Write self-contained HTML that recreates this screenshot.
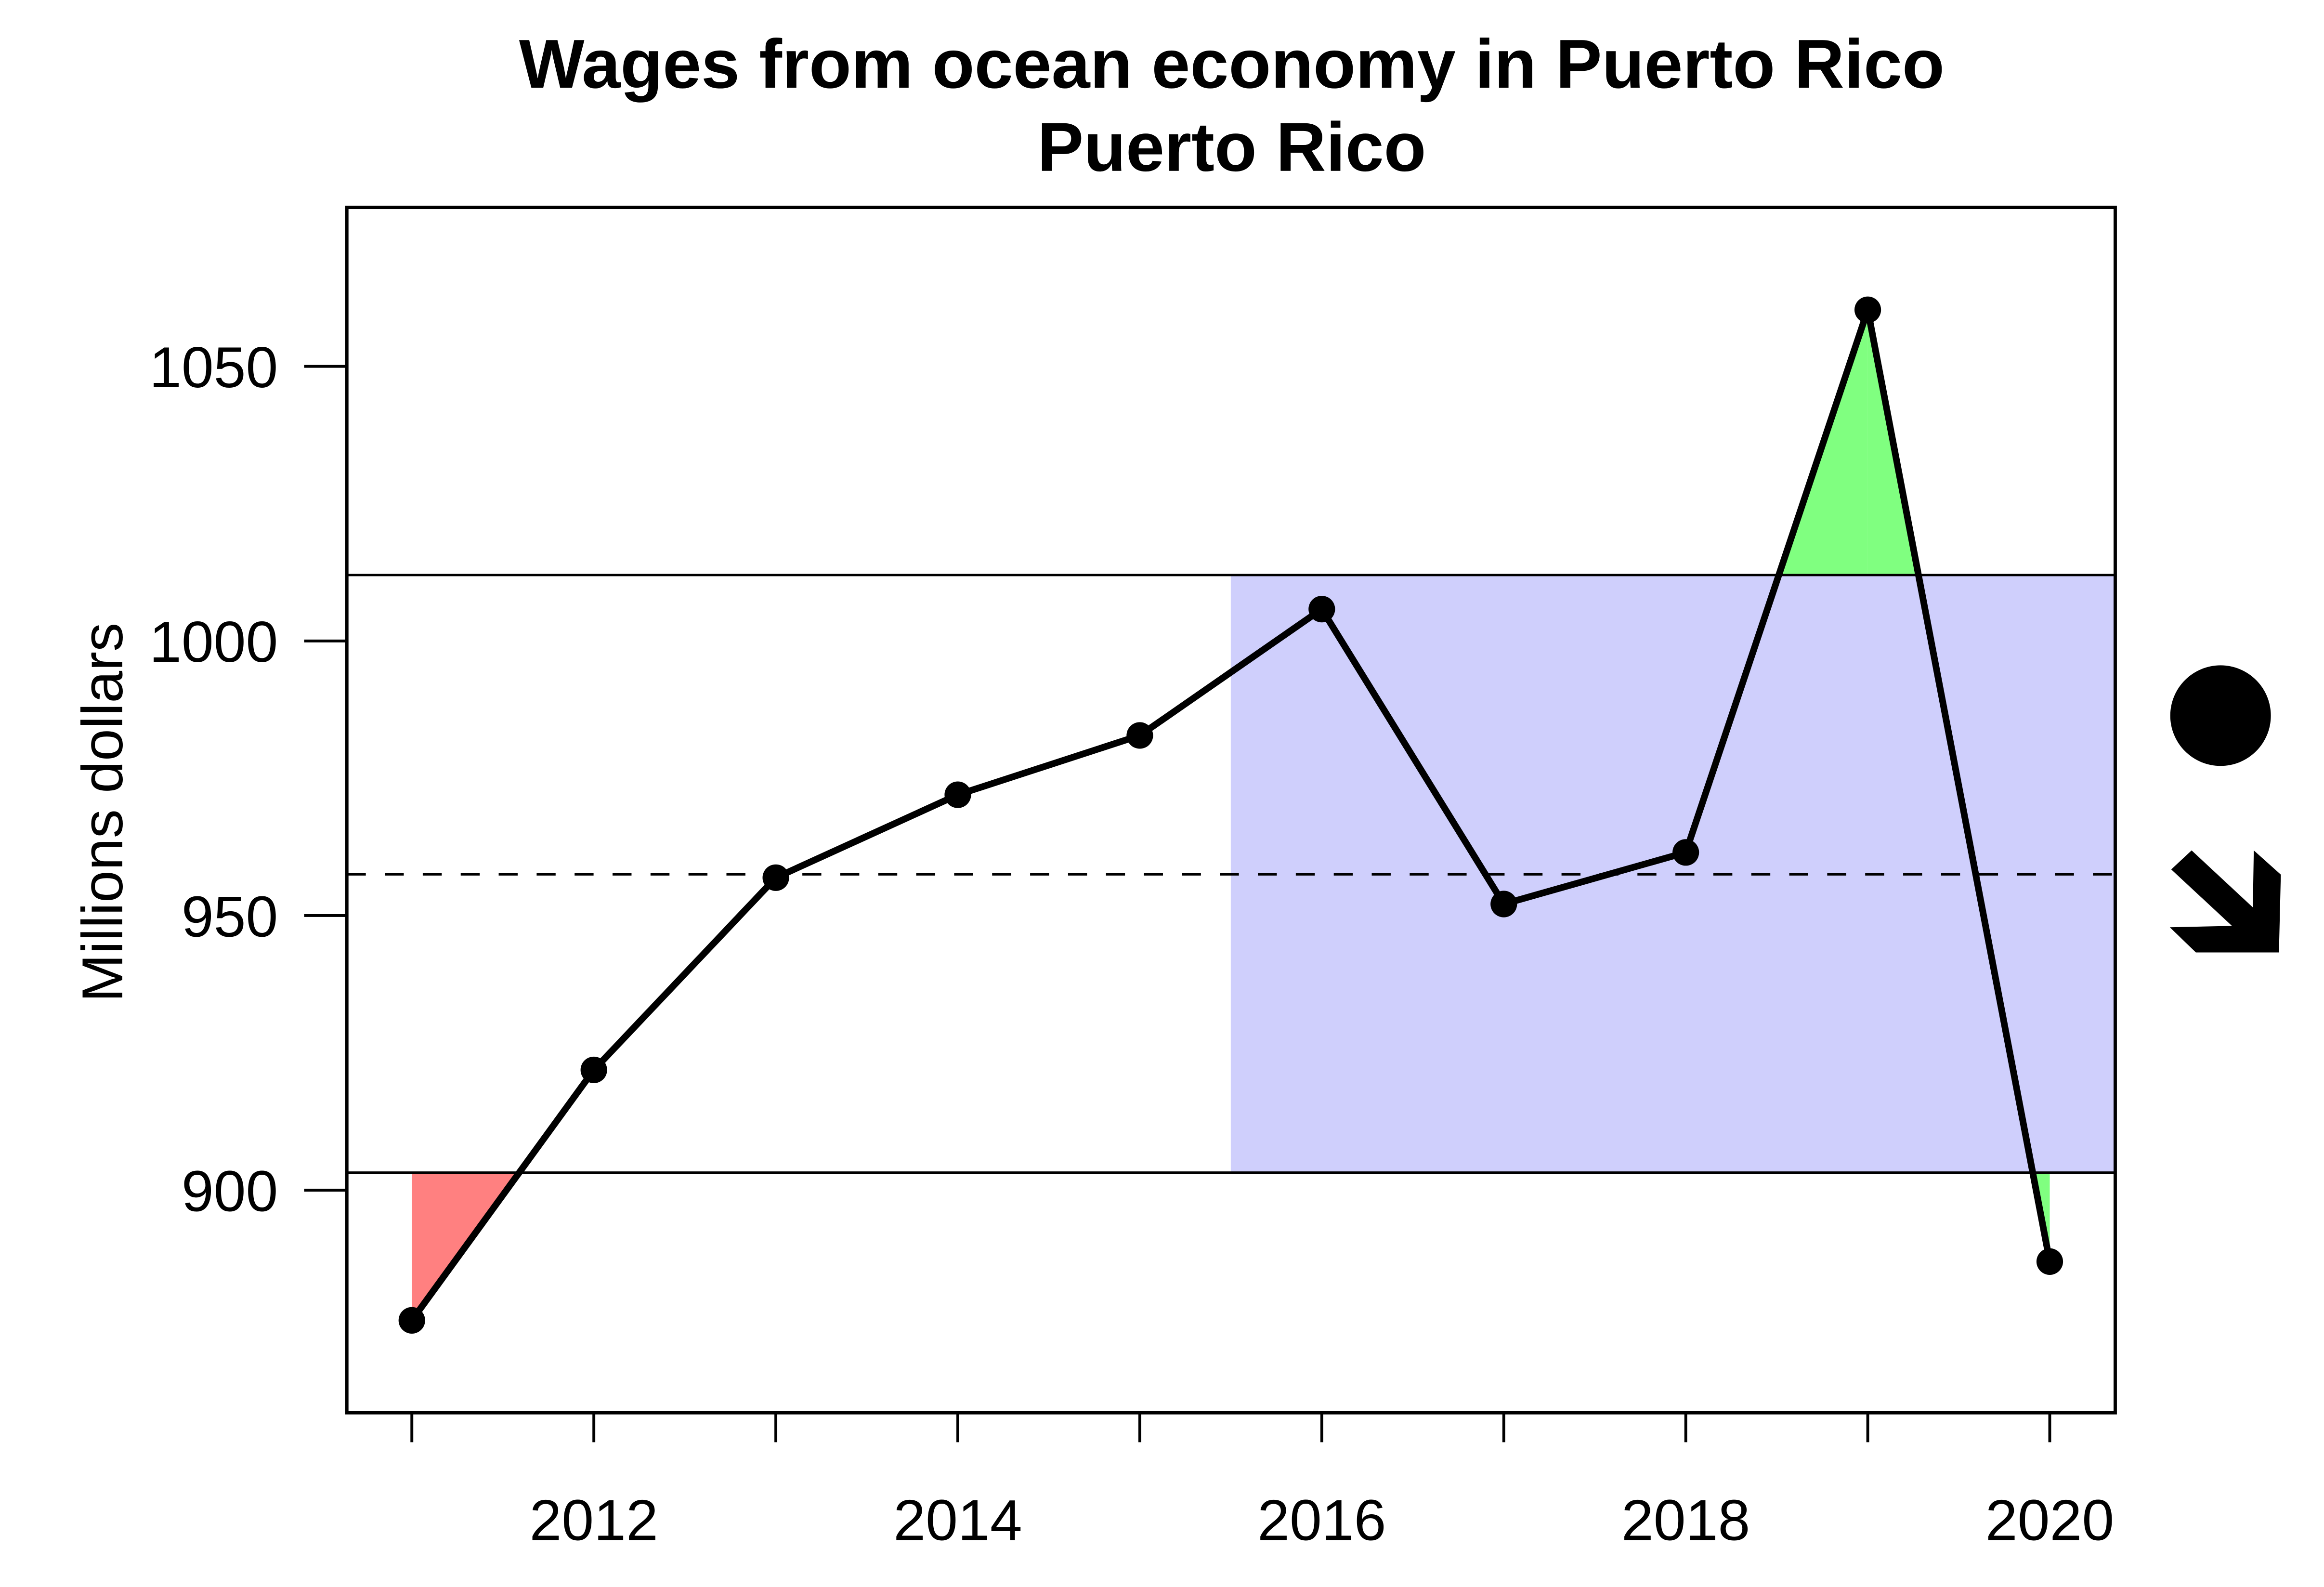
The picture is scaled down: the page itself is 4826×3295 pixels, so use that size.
<!DOCTYPE html>
<html><head><meta charset="utf-8">
<style>
html,body{margin:0;padding:0;background:#fff;}
svg{display:block;font-family:"Liberation Sans",Arial,sans-serif;}
</style></head>
<body>
<svg id="chart" width="4826" height="3295" viewBox="0 0 4826 3295" xmlns="http://www.w3.org/2000/svg">
<g transform="scale(0.9853)">
<text x="2596" y="185" font-size="146" font-weight="bold" text-anchor="middle">Wages from ocean economy in Puerto Rico</text>
<text x="2596" y="360" font-size="146" font-weight="bold" text-anchor="middle">Puerto Rico</text>
<text transform="translate(258,1712) rotate(-90)" font-size="122" text-anchor="middle">Millions dollars</text>
<g id="plot"></g>
<circle cx="4680" cy="1508" r="106" fill="#000"/>
<polygon fill="#000" points="4576,1832 4619,1792 4748,1912 4750,1792 4807,1843 4803,2007 4628,2007 4573,1954 4704,1951"/>
</g>
</svg>
<script>
const years = [2011,2012,2013,2014,2015,2016,2017,2018,2019,2020];
const values = [876.3,921.9,956.9,972.0,982.8,1005.8,952.1,961.5,1060.3,887.0];
const upperBand = [1012.0];
const lowerBand = [903.2];
const meanLine = [957.5];
const shadeStart = [2015.5];
const yTicks = [900,950,1000,1050];
const xTicks = [2011,2012,2013,2014,2015,2016,2017,2018,2019,2020];
const xTickLabels = ["","2012","","2014","","2016","","2018","","2020"];

const L=731,R=4458,T=437,B=2977;
function X(yr){return 868+(yr-2011)*(4320-868)/9;}
function Y(v){return 2508-(v-900)*(2508-772)/150;}
const NS="http://www.w3.org/2000/svg";
const g=document.getElementById('plot');
function mk(tag,attrs,parent){const e=document.createElementNS(NS,tag);for(const k in attrs)e.setAttribute(k,attrs[k]);(parent||g).appendChild(e);return e;}

const up=upperBand[0],lo=lowerBand[0];
let sh=mk('rect',{x:X(shadeStart[0]),y:Y(up),width:R-X(shadeStart[0]),height:Y(lo)-Y(up),fill:'#cfcffc'});



function fillBeyond(thr,above,color,name){
  for(let i=0;i<years.length-1;i++){
    const a=values[i],b=values[i+1];
    const fa=above?a-thr:thr-a, fb=above?b-thr:thr-b;
    if(fa<=0&&fb<=0)continue;
    let pts=[];
    let xa=years[i],xb=years[i+1];
    if(fa>0&&fb>0){pts=[[xa,thr],[xa,a],[xb,b],[xb,thr]];}
    else if(fa>0){const xc=xa+(xb-xa)*fa/(fa-fb);pts=[[xa,thr],[xa,a],[xc,thr]];}
    else {const xc=xa+(xb-xa)*(-fa)/(fb-fa);pts=[[xc,thr],[xb,b],[xb,thr]];}
    const p=mk('polygon',{points:pts.map(q=>X(q[0])+','+Y(q[1])).join(' '),fill:color});
    
    
  }
}
fillBeyond(lo,false,'#ff8080','below-band-fill');
fillBeyond(up,true,'#80ff80','above-band-fill');
(function(){
  const i=years.length-2,a=values[i],b=values[i+1];
  if(b<lo&&a>lo){
    const xc=years[i]+(lo-a)/(b-a);
    const p=mk('polygon',{points:[[xc,lo],[years[i+1],b],[years[i+1],lo]].map(q=>X(q[0])+','+Y(q[1])).join(' '),fill:'#80ff80'});
    
    
  }
})();

let l1=mk('line',{x1:L,x2:R,y1:Y(up),y2:Y(up),stroke:'#000','stroke-width':5});


let l2=mk('line',{x1:L,x2:R,y1:Y(lo),y2:Y(lo),stroke:'#000','stroke-width':5});


let l3=mk('line',{x1:L,x2:R,y1:Y(meanLine[0]),y2:Y(meanLine[0]),stroke:'#000','stroke-width':5,'stroke-dasharray':'40 40'});



let pl=mk('polyline',{points:years.map((y,i)=>X(y)+','+Y(values[i])).join(' '),fill:'none',stroke:'#000','stroke-width':14,'stroke-linejoin':'round'});


years.forEach((y,i)=>{
  const c=mk('circle',{cx:X(y),cy:Y(values[i]),r:28,fill:'#000'});
  
  
});

let fr=mk('rect',{x:L,y:T,width:R-L,height:B-T,fill:'none',stroke:'#000','stroke-width':7});



yTicks.forEach(v=>{
  const t=mk('line',{x1:L-90,x2:L,y1:Y(v),y2:Y(v),stroke:'#000','stroke-width':6});
  
  
  const tx=mk('text',{x:L-145,y:Y(v)+44,'font-size':122,'text-anchor':'end'});
  tx.textContent=String(v);
  
  
});
xTicks.forEach((yr,i)=>{
  const t=mk('line',{x1:X(yr),x2:X(yr),y1:B,y2:B+62,stroke:'#000','stroke-width':6});
  
  
  if(xTickLabels[i]){
    const tx=mk('text',{x:X(yr),y:3245,'font-size':122,'text-anchor':'middle'});
    tx.textContent=xTickLabels[i];
    
    
  }
});
</script>
</body></html>
